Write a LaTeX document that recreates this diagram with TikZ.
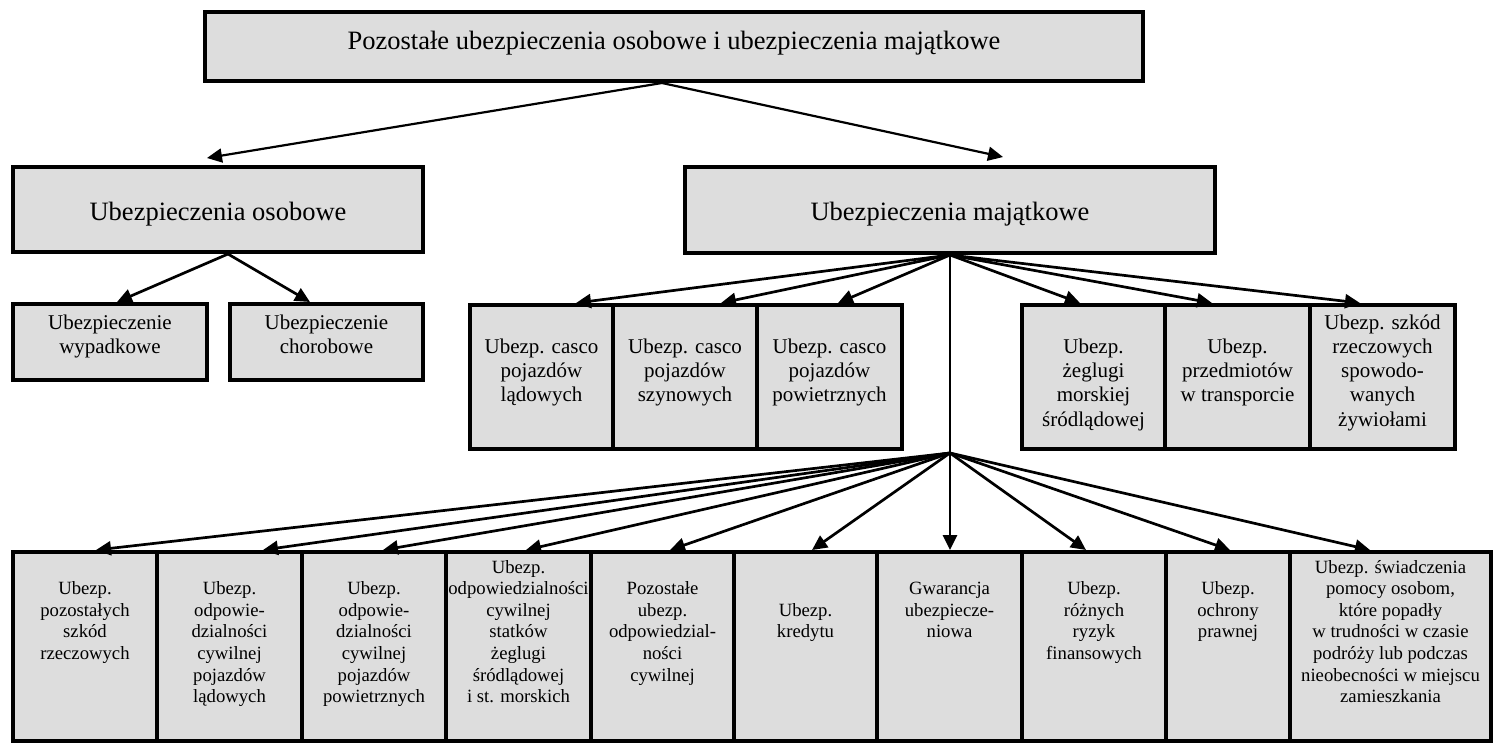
\documentclass[tikz,border=0pt]{standalone}
\usepackage{fontspec}
\setmainfont{Liberation Serif}
\usetikzlibrary{arrows.meta}
\definecolor{boxfill}{RGB}{221,221,221}
\begin{document}
\begin{tikzpicture}[x=1pt,y=-1pt,
  box/.style={draw=black, fill=boxfill, line width=4pt, inner sep=0pt},
  big/.style={font=\fontsize{26.5}{30}\selectfont, anchor=base, inner sep=0pt},
  % multi-line labels are placed by the baseline of their last line
  mid/.style={font=\fontsize{21}{24.3}\selectfont, align=center, anchor=base, inner sep=0pt},
  small/.style={font=\fontsize{18.7}{21.6}\selectfont, align=center, anchor=base, inner sep=0pt},
  arr/.style={line width=2.7pt, -{Triangle[length=15pt,width=14pt]}},
  thinarr/.style={line width=2.2pt, -{Triangle[length=15pt,width=14pt]}},
]
\useasboundingbox (0,0) rectangle (1494,744);

% ---------- boxes ----------
\node[box, minimum width=938pt, minimum height=69pt] (top) at (674,46.5) {};
\node[box, minimum width=410pt, minimum height=85pt] (os) at (218,209.5) {};
\node[box, minimum width=530pt, minimum height=86pt] (mj) at (950,210) {};

\node[box, minimum width=194pt, minimum height=76pt] (wyp) at (110,342) {};
\node[box, minimum width=193pt, minimum height=76pt] (cho) at (326.5,342) {};

\node[box, minimum width=143pt, minimum height=144pt] (c1) at (541.5,377) {};
\node[box, minimum width=144pt, minimum height=144pt] (c2) at (685,377) {};
\node[box, minimum width=145pt, minimum height=144pt] (c3) at (829.5,377) {};
\node[box, minimum width=143pt, minimum height=144pt] (r1) at (1093.5,377) {};
\node[box, minimum width=145pt, minimum height=144pt] (r2) at (1237.5,377) {};
\node[box, minimum width=145pt, minimum height=144pt] (r3) at (1382.5,377) {};

\node[box, minimum width=144pt, minimum height=189pt] (b1) at (85,646.5) {};
\node[box, minimum width=145pt, minimum height=189pt] (b2) at (229.5,646.5) {};
\node[box, minimum width=144pt, minimum height=189pt] (b3) at (374,646.5) {};
\node[box, minimum width=145pt, minimum height=189pt] (b4) at (518.5,646.5) {};
\node[box, minimum width=143pt, minimum height=189pt] (b5) at (662.5,646.5) {};
\node[box, minimum width=143pt, minimum height=189pt] (b6) at (805.5,646.5) {};
\node[box, minimum width=145pt, minimum height=189pt] (b7) at (949.5,646.5) {};
\node[box, minimum width=144pt, minimum height=189pt] (b8) at (1094,646.5) {};
\node[box, minimum width=124pt, minimum height=189pt] (b9) at (1228,646.5) {};
\node[box, minimum width=201pt, minimum height=189pt] (b10) at (1390.5,646.5) {};

% ---------- labels ----------
\node[big] (ttop) at (674,49) {Pozostałe ubezpieczenia osobowe i ubezpieczenia majątkowe};
\node[big] (tos) at (218,220) {Ubezpieczenia osobowe};
\node[big] (tmj) at (950,220) {Ubezpieczenia majątkowe};

\node[mid] (twyp) at (110,353.3) {Ubezpieczenie\\wypadkowe};
\node[mid] (tcho) at (326.5,353.3) {Ubezpieczenie\\chorobowe};

\node[mid] (tc1) at (541.5,401.9) {Ubezp. casco\\pojazdów\\lądowych};
\node[mid] (tc2) at (685,401.9) {Ubezp. casco\\pojazdów\\szynowych};
\node[mid] (tc3) at (829.5,401.9) {Ubezp. casco\\pojazdów\\powietrznych};
\node[mid] (tr1) at (1093.5,426.2) {Ubezp.\\żeglugi\\morskiej\\śródlądowej};
\node[mid] (tr2) at (1237.5,401.9) {Ubezp.\\przedmiotów\\w transporcie};
\node[mid] (tr3) at (1382.5,426.2) {Ubezp. szkód\\rzeczowych\\spowodo-\\wanych\\żywiołami};

\node[small] (tb1) at (85,659.4) {Ubezp.\\pozostałych\\szkód\\rzeczowych};
\node[small] (tb2) at (229.5,702.6) {Ubezp.\\odpowie-\\dzialności\\cywilnej\\pojazdów\\lądowych};
\node[small] (tb3) at (374,702.6) {Ubezp.\\odpowie-\\dzialności\\cywilnej\\pojazdów\\powietrznych};
\node[small] (tb4) at (518.5,702.6) {Ubezp.\\odpowiedzialności\\cywilnej\\statków\\żeglugi\\śródlądowej\\i st. morskich};
\node[small] (tb5) at (662.5,681) {Pozostałe\\ubezp.\\odpowiedzial-\\ności\\cywilnej};
\node[small] (tb6) at (805.5,637.8) {Ubezp.\\kredytu};
\node[small] (tb7) at (949.5,637.8) {Gwarancja\\ubezpiecze-\\niowa};
\node[small] (tb8) at (1094,659.4) {Ubezp.\\różnych\\ryzyk\\finansowych};
\node[small] (tb9) at (1228,637.8) {Ubezp.\\ochrony\\prawnej};
\node[small] (tb10) at (1390.5,702.6) {Ubezp. świadczenia\\pomocy osobom,\\które popadły\\w trudności w czasie\\podróży lub podczas\\nieobecności w miejscu\\zamieszkania};

% ---------- connectors ----------
\coordinate (hub) at (950,453);

\draw[thinarr] ([xshift=-12pt]top.south) -- ([xshift=-11pt,yshift=7pt]os.north);
\draw[thinarr] ([xshift=-12pt]top.south) -- ([xshift=53pt,yshift=8pt]mj.north);

\draw[arr] ([xshift=10pt]os.south) -- ([xshift=7pt]wyp.north);
\draw[arr] ([xshift=10pt]os.south) -- ([xshift=-16.5pt]cho.north);

\draw[arr] (mj.south) -- ([xshift=34.5pt]c1.north);
\draw[arr] (mj.south) -- ([xshift=36pt]c2.north);
\draw[arr] (mj.south) -- ([xshift=8.5pt]c3.north);
\draw[arr] (mj.south) -- ([xshift=-13.5pt]r1.north);
\draw[arr] (mj.south) -- ([xshift=-25.5pt]r2.north);
\draw[arr] (mj.south) -- ([xshift=-22.5pt]r3.north);

\draw[line width=2pt] (mj.south) -- (hub);

\draw[arr] (hub) -- ([xshift=11pt]b1.north);
\draw[arr] (hub) -- ([xshift=33.5pt]b2.north);
\draw[arr] (hub) -- ([xshift=9pt]b3.north);
\draw[arr] (hub) -- ([xshift=7.5pt]b4.north);
\draw[arr] (hub) -- ([xshift=7.5pt]b5.north);
\draw[arr] (hub) -- ([xshift=6.5pt]b6.north);
\draw[arr] (hub) -- ([xshift=0.5pt]b7.north);
\draw[arr] (hub) -- ([xshift=-8pt]b8.north);
\draw[arr] (hub) -- ([xshift=2pt]b9.north);
\draw[arr] (hub) -- ([xshift=-20.5pt]b10.north);
\end{tikzpicture}
\end{document}
